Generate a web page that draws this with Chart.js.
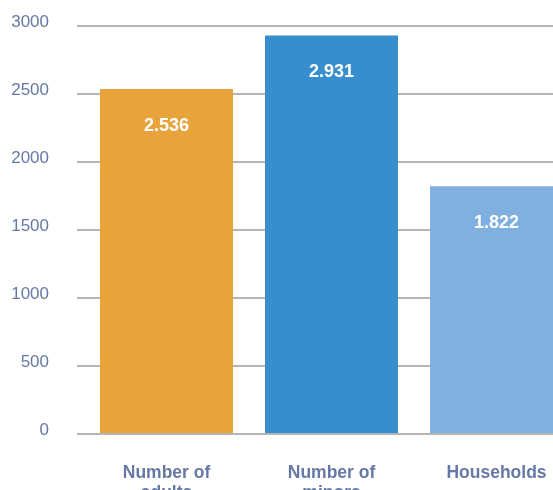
<!DOCTYPE html>
<html><head><meta charset="utf-8">
<script src="https://cdn.jsdelivr.net/npm/chart.js@4"></script>
<style>
html,body{margin:0;padding:0;background:#fff;overflow:hidden;width:553px;height:490px;}
#wrap{width:600px;height:490px;position:relative;}
</style></head>
<body><div id="wrap"><canvas id="c" width="600" height="490"></canvas></div>
<script>
const categories = [["Number of","adults"],["Number of","minors"],"Households"];
const values = [2536, 2931, 1822];
const valueLabels = ["2.536", "2.931", "1.822"];
const barColors = ["#E8A33D", "#368ECD", "#7FB0DF"];
const yTicks = [0, 500, 1000, 1500, 2000, 2500, 3000];

const textColor = "#6679a6";
const valuePlugin = {
  id: 'valueLabels',
  afterDatasetsDraw(chart) {
    const ctx = chart.ctx;
    const meta = chart.getDatasetMeta(0);
    ctx.save();
    ctx.fillStyle = '#ffffff';
    ctx.font = 'bold 18px "Liberation Sans", Arial, sans-serif';
    ctx.textAlign = 'center';
    ctx.textBaseline = 'middle';
    meta.data.forEach((bar, i) => {
      ctx.fillText(valueLabels[i], bar.x, bar.y + 37);
    });
    ctx.restore();
  }
};

new Chart(document.getElementById('c'), {
  type: 'bar',
  data: {
    labels: categories,
    datasets: [{
      data: values,
      backgroundColor: barColors,
      borderWidth: 0,
      categoryPercentage: 1,
      barPercentage: 0.806
    }]
  },
  options: {
    responsive: false,
    animation: false,
    devicePixelRatio: 1,
    layout: { padding: { left: 0, right: 21, top: 26, bottom: 0 } },
    plugins: { legend: { display: false }, tooltip: { enabled: false } },
    scales: {
      x: {
        grid: { display: false, drawTicks: false },
        border: { display: false },
        ticks: {
          color: textColor,
          padding: 30,
          maxRotation: 0,
          autoSkip: false,
          font: { family: '"Liberation Sans", Arial, sans-serif', size: 17.5, weight: 'bold', lineHeight: 1.1 }
        },
        afterFit(scale) { scale.height = 56; }
      },
      y: {
        min: 0, max: 3000,
        afterBuildTicks(scale) { scale.ticks = yTicks.map(v => ({ value: v })); },
        grid: { color: '#b5b5b5', lineWidth: 2, drawTicks: true, tickLength: 7, tickColor: '#b5b5b5' },
        border: { display: false },
        ticks: {
          color: textColor,
          padding: 28,
          labelOffset: -4,
          callback: (v) => String(v),
          font: { family: '"Liberation Sans", Arial, sans-serif', size: 17 }
        },
        afterFit(scale) { scale.width = 84; scale.paddingTop = 0; scale.paddingBottom = 0; }
      }
    }
  },
  plugins: [valuePlugin]
});
</script></body></html>
